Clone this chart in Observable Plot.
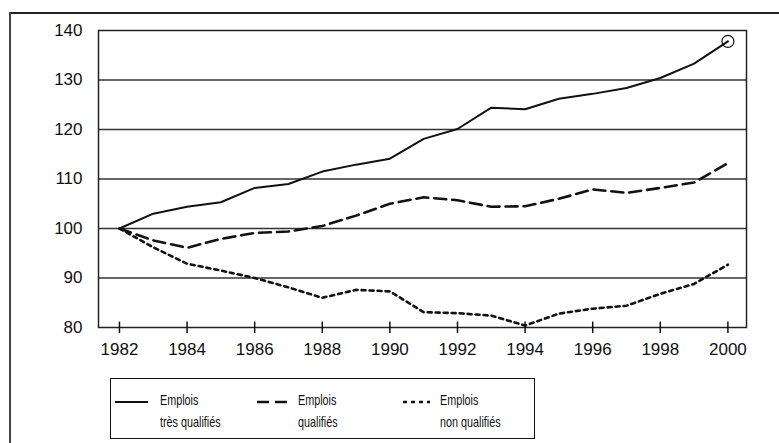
<!DOCTYPE html>
<html>
<head>
<meta charset="utf-8">
<script src="https://cdn.jsdelivr.net/npm/d3@7"></script>
<script src="https://cdn.jsdelivr.net/npm/@observablehq/plot@0.6"></script>
<style>
  html, body { margin: 0; padding: 0; background: #fff; }
  #wrap { position: relative; width: 779px; height: 443px; overflow: hidden; background: #fff; }
  #topline { position: absolute; left: 9px; top: 12px; width: 770px; height: 2px; background: #222; }
  #leftline { position: absolute; left: 9px; top: 12px; width: 2px; height: 431px; background: #444; }
  #chart { position: absolute; left: 0; top: 0; }
  #legendbox { position: absolute; left: 110px; top: 378px; width: 423px; height: 59px; border: 1.5px solid #111; }
  .sw { position: absolute; }
  .txt { position: absolute; font-family: "Liberation Sans", Arial, sans-serif; font-size: 15px; color: #111;
         line-height: 22px; transform: scaleX(0.72); transform-origin: 0 0; white-space: nowrap; }
</style>
</head>
<body>
<div id="wrap">
  <div id="topline"></div>
  <div id="leftline"></div>
  <div id="chart"></div>
  <div id="legendbox"></div>
</div>
<script>
// ---- data ----
const years = [1982, 1983, 1984, 1985, 1986, 1987, 1988, 1989, 1990, 1991, 1992, 1993, 1994, 1995, 1996, 1997, 1998, 1999, 2000];
const tresQualifies = [100, 103.0, 104.4, 105.3, 108.2, 109.0, 111.5, 112.9, 114.1, 118.1, 120.1, 124.4, 124.1, 126.2, 127.2, 128.4, 130.4, 133.3, 137.8];
const qualifies = [100, 97.6, 96.1, 97.9, 99.1, 99.4, 100.5, 102.6, 105.0, 106.3, 105.7, 104.4, 104.5, 106.0, 107.9, 107.2, 108.2, 109.3, 113.2];
const nonQualifies = [100, 96.2, 92.9, 91.5, 90.0, 88.1, 86.0, 87.6, 87.3, 83.1, 82.9, 82.4, 80.4, 82.8, 83.8, 84.4, 86.8, 88.8, 92.7];
const xTicks = [1982, 1984, 1986, 1988, 1990, 1992, 1994, 1996, 1998, 2000];
const yTicks = [80, 90, 100, 110, 120, 130, 140];
const gridValues = [90, 100, 110, 120, 130];
const seriesNames = ["Emplois\ntrès qualifiés", "Emplois\nqualifiés", "Emplois\nnon qualifiés"];
const dashes = [null, "12,6", "4,4"];

const series = [tresQualifies, qualifies, nonQualifies];
const rows = series.map(vals => years.map((y, i) => ({year: y, value: vals[i]})));

const lineMarks = rows.map((r, k) => Plot.line(r, {
  x: "year", y: "value", stroke: "#111",
  strokeWidth: k === 0 ? 2 : 2.6,
  strokeDasharray: dashes[k]
}));

const chart = Plot.plot({
  width: 779,
  height: 365,
  marginLeft: 98,
  marginRight: 33,
  marginTop: 30,
  marginBottom: 38,
  style: {fontFamily: "'Liberation Sans', Arial, sans-serif", fontSize: "17px", color: "#111", background: "transparent"},
  x: {domain: [1981.38, 2000.55]},
  y: {domain: [80, 140]},
  marks: [
    Plot.ruleY(gridValues, {stroke: "#333", strokeWidth: 1.5}),
    Plot.frame({stroke: "#222", strokeWidth: 1.5}),
    Plot.ruleX(xTicks, {y1: 80, y2: 81.1, stroke: "#111", strokeWidth: 1.5}),
    Plot.axisX({ticks: xTicks, tickFormat: d => String(d), tickSize: 6, tickPadding: 9, label: null, stroke: "#111", strokeWidth: 1.5}),
    Plot.axisY({ticks: yTicks, tickSize: 0, tickPadding: 16, label: null}),
    ...lineMarks,
    Plot.dot([rows[0][rows[0].length - 1]], {x: "year", y: "value", r: 6, stroke: "#111", strokeWidth: 1.2, fill: "none"})
  ]
});
document.getElementById("chart").appendChild(chart);

// ---- legend ----
const wrap = document.getElementById("wrap");
const swX = [115, 257, 403];
const swW = [33, 31, 27];
const txtX = [160, 298, 440];
seriesNames.forEach((name, k) => {
  const sw = d3.create("svg").attr("class", "sw").attr("width", swW[k]).attr("height", 8)
    .style("left", swX[k] + "px").style("top", "398px");
  sw.append("line").attr("x1", 0).attr("x2", swW[k]).attr("y1", 4).attr("y2", 4)
    .attr("stroke", "#111").attr("stroke-width", k === 0 ? 2 : 2.6)
    .attr("stroke-dasharray", dashes[k]);
  wrap.appendChild(sw.node());
  const t = document.createElement("div");
  t.className = "txt";
  t.style.left = txtX[k] + "px";
  t.style.top = "389px";
  const parts = name.split("\n");
  t.innerHTML = parts[0] + "<br>" + parts[1];
  wrap.appendChild(t);
});
</script>
</body>
</html>
